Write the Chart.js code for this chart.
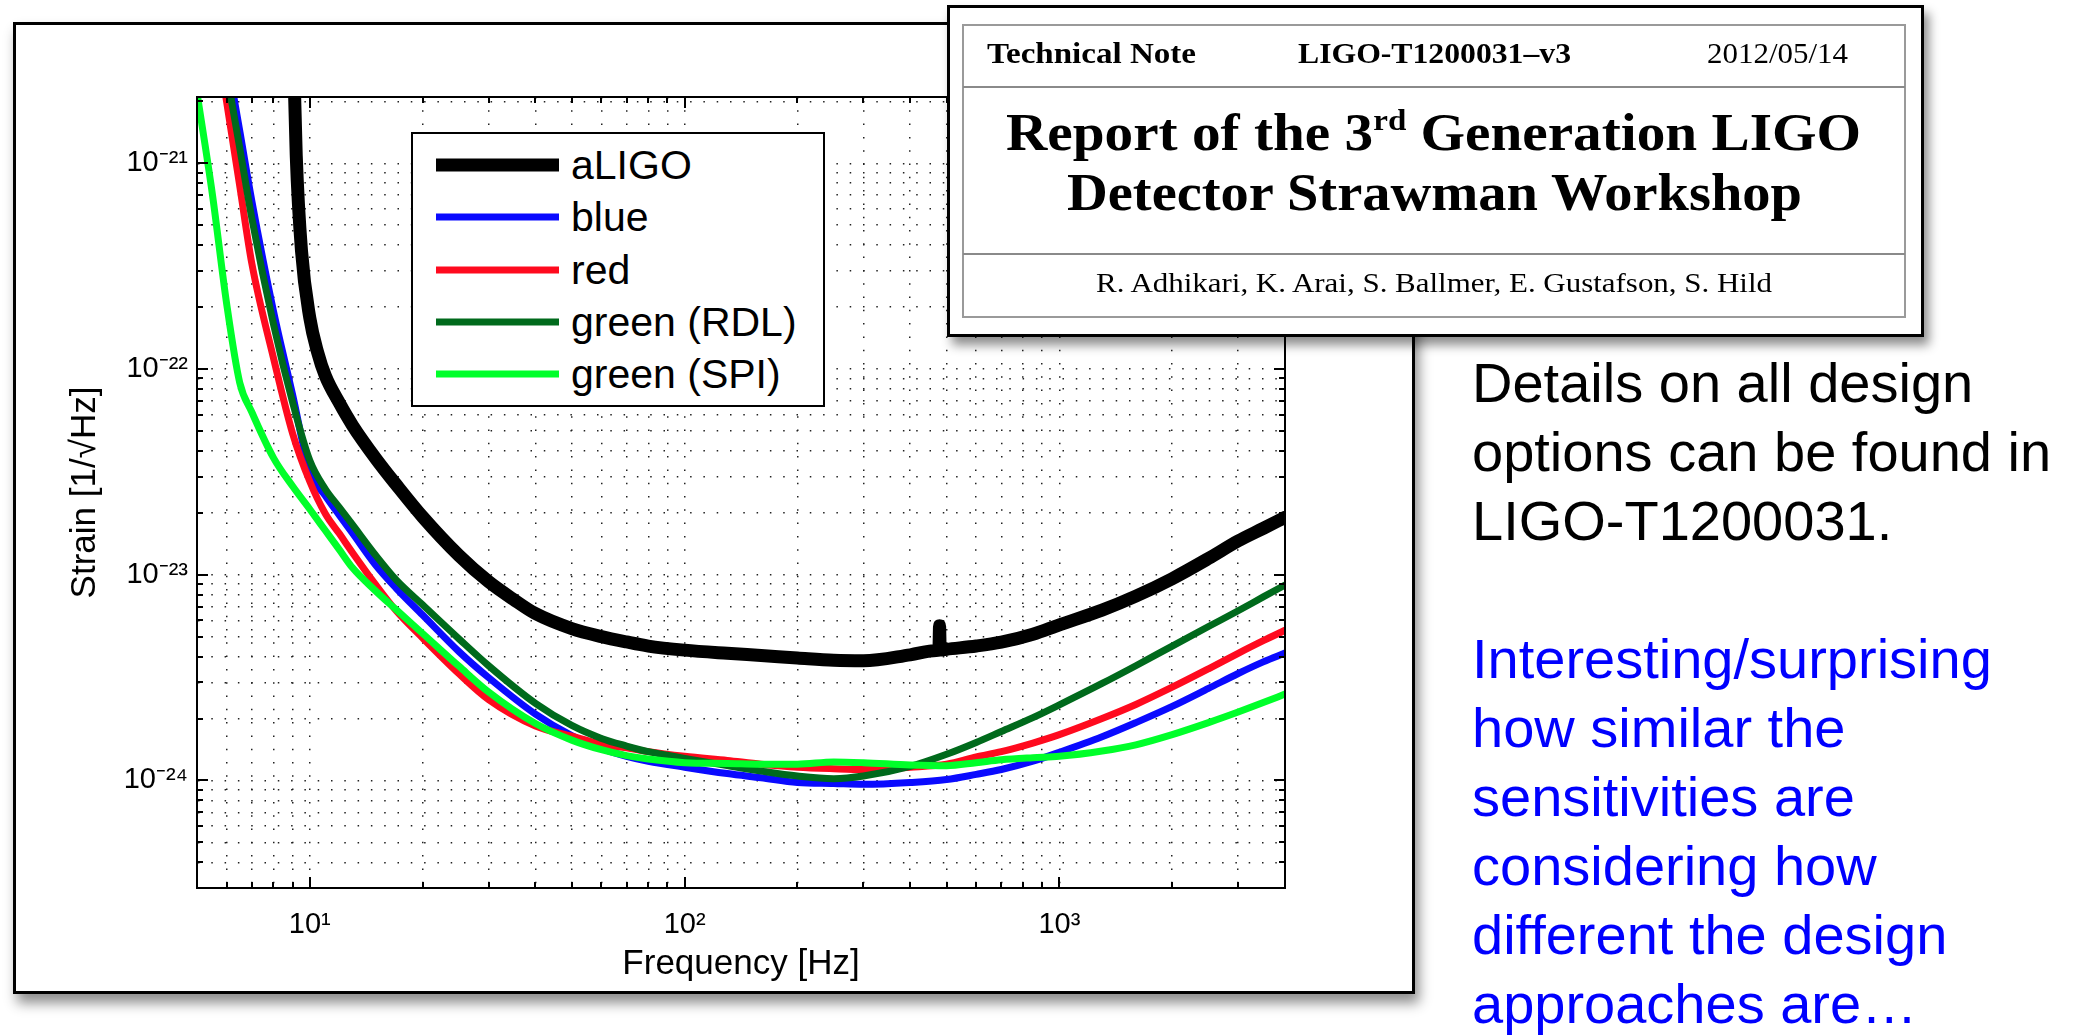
<!DOCTYPE html>
<html>
<head>
<meta charset="utf-8">
<script src="https://cdn.jsdelivr.net/npm/chart.js@4.4.1/dist/chart.umd.min.js"></script>
<style>
  html, body { margin: 0; padding: 0; background: #fff; }
  body { width: 2089px; height: 1035px; position: relative; overflow: hidden;
         font-family: "Liberation Sans", Arial, Helvetica, sans-serif; }
  #fig { position: absolute; left: 13px; top: 22px; width: 1396px; height: 966px;
         border: 3px solid #000; background: #fff; box-shadow: 4px 9px 12px rgba(0,0,0,0.45); }
  #plot { position: absolute; left: 13px; top: 22px; z-index: 2; }
  #legend { position: absolute; left: 411px; top: 132px; width: 410px; height: 271px;
            border: 2px solid #000; background: #fff; z-index: 3; }
  #legend .row { position: absolute; left: 0; width: 100%; height: 52px; }
  #legend .swatch { position: absolute; left: 23px; width: 123px; top: 50%; transform: translateY(-50%); }
  #legend .lbl { position: absolute; left: 158px; top: 0; line-height: 52px; font-size: 41px;
                 white-space: nowrap; color: #000; }
  #note { position: absolute; left: 947px; top: 5px; width: 971px; height: 326px;
          border: 3px solid #000; background: #fff; z-index: 4;
          box-shadow: 5px 8px 10px rgba(0,0,0,0.45); }
  #note svg { position: absolute; left: 0; top: 0; }
  #side { position: absolute; left: 1440px; top: 330px; }
</style>
</head>
<body>
<div id="fig"></div>
<canvas id="plot" width="1402" height="972"></canvas>
<div id="legend"></div>

<div id="note">
  <svg width="971" height="326" viewBox="950 8 971 326" font-family="'Liberation Serif', 'Times New Roman', serif">
    <rect x="963" y="25" width="942" height="292" fill="none" stroke="#9a9a9a" stroke-width="2"/>
    <line x1="963" y1="87" x2="1905" y2="87" stroke="#8a8a8a" stroke-width="2"/>
    <line x1="963" y1="254" x2="1905" y2="254" stroke="#8a8a8a" stroke-width="2"/>
    <text x="987" y="63" font-size="30" font-weight="bold" textLength="209" lengthAdjust="spacingAndGlyphs">Technical Note</text>
    <text x="1298" y="63" font-size="30" font-weight="bold" textLength="273" lengthAdjust="spacingAndGlyphs">LIGO-T1200031–v3</text>
    <text x="1707" y="63" font-size="30" textLength="141" lengthAdjust="spacingAndGlyphs">2012/05/14</text>
    <text x="1006" y="150" font-size="52" font-weight="bold" textLength="855" lengthAdjust="spacingAndGlyphs">Report of the 3<tspan font-size="30" dy="-20">rd</tspan><tspan dy="20"> Generation LIGO</tspan></text>
    <text x="1067" y="210" font-size="52" font-weight="bold" textLength="735" lengthAdjust="spacingAndGlyphs">Detector Strawman Workshop</text>
    <text x="1096" y="292" font-size="28" textLength="676" lengthAdjust="spacingAndGlyphs">R. Adhikari, K. Arai, S. Ballmer, E. Gustafson, S. Hild</text>
  </svg>
</div>

<svg id="side" width="649" height="705" viewBox="1440 330 649 705" font-family="'Liberation Sans', Arial, Helvetica, sans-serif" font-size="56">
  <text x="1472" y="402" fill="#000">Details on all design</text>
  <text x="1472" y="471" fill="#000">options can be found in</text>
  <text x="1472" y="540" fill="#000">LIGO-T1200031.</text>
  <text x="1472" y="678" fill="#0000fe">Interesting/surprising</text>
  <text x="1472" y="747" fill="#0000fe">how similar the</text>
  <text x="1472" y="816" fill="#0000fe">sensitivities are</text>
  <text x="1472" y="885" fill="#0000fe">considering how</text>
  <text x="1472" y="954" fill="#0000fe">different the design</text>
  <text x="1472" y="1023" fill="#0000fe">approaches are…</text>
</svg>

<script>
// frequency grid shared by the four design curves (Hz)
const freqs = [5, 5.5, 6, 6.5, 7, 8, 9, 10, 11, 12,
  13, 15, 17, 20, 25, 30, 40, 50, 60, 70,
  80, 100, 130, 160, 200, 250, 300, 400, 500, 600,
  700, 850, 1000, 1300, 1600, 2000, 2500, 3000, 3500, 4000];

// strain [1/sqrt(Hz)]
const blueStrain = [2.11e-20, 8.32e-21, 3.33e-21, 1.44e-21, 6.59e-22, 1.91e-22, 7.48e-23, 3.17e-23, 2.42e-23, 1.94e-23,
  1.59e-23, 1.11e-23, 8.59e-24, 6.37e-24, 4.23e-24, 3.16e-24, 2.10e-24, 1.65e-24, 1.43e-24, 1.31e-24,
  1.24e-24, 1.16e-24, 1.08e-24, 1.03e-24, 9.77e-25, 9.66e-25, 9.57e-25, 9.77e-25, 1.01e-24, 1.07e-24,
  1.13e-24, 1.24e-24, 1.37e-24, 1.63e-24, 1.91e-24, 2.29e-24, 2.80e-24, 3.31e-24, 3.77e-24, 4.16e-24];

const redStrain = [1.55e-20, 5.47e-21, 1.98e-21, 7.78e-22, 3.27e-22, 1.13e-22, 4.85e-23, 2.84e-23, 1.98e-23, 1.58e-23,
  1.28e-23, 8.93e-24, 6.68e-24, 4.92e-24, 3.30e-24, 2.47e-24, 1.84e-24, 1.64e-24, 1.50e-24, 1.44e-24,
  1.38e-24, 1.31e-24, 1.25e-24, 1.20e-24, 1.16e-24, 1.14e-24, 1.13e-24, 1.16e-24, 1.20e-24, 1.30e-24,
  1.38e-24, 1.52e-24, 1.67e-24, 2.00e-24, 2.34e-24, 2.84e-24, 3.49e-24, 4.15e-24, 4.78e-24, 5.37e-24];

const rdlStrain = [1.75e-20, 6.85e-21, 2.74e-21, 1.19e-21, 5.43e-22, 1.65e-22, 6.87e-23, 3.59e-23, 2.61e-23, 2.12e-23,
  1.75e-23, 1.24e-23, 9.44e-24, 7.14e-24, 4.88e-24, 3.61e-24, 2.37e-24, 1.85e-24, 1.60e-24, 1.47e-24,
  1.38e-24, 1.28e-24, 1.18e-24, 1.11e-24, 1.05e-24, 1.02e-24, 1.05e-24, 1.17e-24, 1.34e-24, 1.53e-24,
  1.73e-24, 2.02e-24, 2.33e-24, 2.96e-24, 3.61e-24, 4.50e-24, 5.60e-24, 6.68e-24, 7.80e-24, 8.91e-24];

const spiStrain = [2.2e-21, 7.00e-22, 2.07e-22, 8.59e-23, 6.18e-23, 3.70e-23, 2.69e-23, 2.08e-23, 1.64e-23, 1.32e-23,
  1.08e-23, 8.32e-24, 6.76e-24, 5.18e-24, 3.59e-24, 2.69e-24, 1.89e-24, 1.57e-24, 1.41e-24, 1.32e-24,
  1.27e-24, 1.22e-24, 1.21e-24, 1.20e-24, 1.20e-24, 1.23e-24, 1.22e-24, 1.19e-24, 1.18e-24, 1.22e-24,
  1.26e-24, 1.29e-24, 1.31e-24, 1.39e-24, 1.49e-24, 1.67e-24, 1.91e-24, 2.15e-24, 2.39e-24, 2.63e-24];

// aLIGO has its own grid (line feature near 479 Hz)
const aligoFreqs = [8.9, 9.2, 9.5, 10, 10.5, 11, 12, 13, 15, 17,
  20, 25, 30, 35, 40, 50, 60, 70, 80, 100,
  130, 160, 200, 250, 300, 400, 470, 477, 479, 481,
  500, 600, 700, 850, 1000, 1300, 1600, 2000, 2500, 3000,
  3500, 4000];
const aligoStrain = [1.07e-20, 1.09e-21, 3.77e-22, 1.77e-22, 1.20e-22, 9.27e-23, 6.82e-23, 5.32e-23, 3.67e-23, 2.74e-23,
  1.91e-23, 1.24e-23, 9.25e-24, 7.57e-24, 6.47e-24, 5.47e-24, 5.00e-24, 4.71e-24, 4.50e-24, 4.30e-24,
  4.15e-24, 4.05e-24, 3.94e-24, 3.84e-24, 3.82e-24, 4.08e-24, 4.28e-24, 4.29e-24, 5.65e-24, 4.30e-24,
  4.34e-24, 4.50e-24, 4.70e-24, 5.14e-24, 5.71e-24, 6.73e-24, 7.87e-24, 9.57e-24, 1.20e-23, 1.46e-23,
  1.68e-23, 1.90e-23];

// axes
const xMin = 5, xMax = 4000;
const yMin = 3e-25, yMax = 2.1e-21;
const xMajor = [10, 100, 1000];
const xMajorLabels = ['10¹', '10²', '10³'];
const yMajor = [1e-24, 1e-23, 1e-22, 1e-21];
const yMajorLabels = ['10⁻²⁴', '10⁻²³', '10⁻²²', '10⁻²¹'];

const sans = "'Liberation Sans', Arial, Helvetica, sans-serif";

function toPoints(xs, ys) {
  return xs.map((f, i) => ({ x: f, y: ys[i] }));
}

// 1..9 x 10^n between min and max, like matlab minor grid
function gridValues(min, max) {
  const out = [];
  let dec = Math.pow(10, Math.floor(Math.log10(min)));
  while (dec <= max) {
    for (let m = 1; m <= 9; m++) {
      const v = m * dec;
      if (v >= min * (1 - 1e-9) && v <= max * (1 + 1e-9)) out.push(v);
    }
    dec *= 10;
  }
  return out;
}

function majorIndex(v, majors) {
  return majors.findIndex(t => Math.abs(v / t - 1) < 1e-6);
}

// box on + inward ticks, drawn from the scales
const axesBox = {
  id: 'axesBox',
  afterDraw(chart) {
    const { ctx, chartArea: a, scales: { x, y } } = chart;
    ctx.save();
    ctx.strokeStyle = '#000';
    ctx.lineWidth = 2;
    ctx.beginPath();
    x.ticks.forEach(t => {
      if (t.value <= xMin || t.value >= xMax) return;
      const px = Math.round(x.getPixelForValue(t.value));
      const len = majorIndex(t.value, xMajor) >= 0 ? 11 : 6;
      ctx.moveTo(px, a.bottom); ctx.lineTo(px, a.bottom - len);
      ctx.moveTo(px, a.top); ctx.lineTo(px, a.top + len);
    });
    y.ticks.forEach(t => {
      if (t.value <= yMin || t.value >= yMax) return;
      const py = Math.round(y.getPixelForValue(t.value));
      const len = majorIndex(t.value, yMajor) >= 0 ? 11 : 6;
      ctx.moveTo(a.left, py); ctx.lineTo(a.left + len, py);
      ctx.moveTo(a.right, py); ctx.lineTo(a.right - len, py);
    });
    ctx.stroke();
    ctx.strokeRect(a.left, a.top, a.right - a.left, a.bottom - a.top);
    ctx.restore();
  }
};

const datasets = [
  { label: 'aLIGO', data: toPoints(aligoFreqs, aligoStrain), borderColor: '#000000', borderWidth: 13, order: 5 },
  { label: 'blue', data: toPoints(freqs, blueStrain), borderColor: '#0a0aff', borderWidth: 7, order: 4 },
  { label: 'red', data: toPoints(freqs, redStrain), borderColor: '#ff0a1e', borderWidth: 7, order: 3 },
  { label: 'green (RDL)', data: toPoints(freqs, rdlStrain), borderColor: '#006a1c', borderWidth: 7, order: 2 },
  { label: 'green (SPI)', data: toPoints(freqs, spiStrain), borderColor: '#00ff2a', borderWidth: 7, order: 1 }
];
datasets.forEach(d => {
  d.pointRadius = 0;
  d.fill = false;
  d.cubicInterpolationMode = 'monotone';
  d.borderJoinStyle = 'round';
  d.borderCapStyle = 'round';
  d.clip = 0;
});

const chart = new Chart(document.getElementById('plot'), {
  type: 'line',
  data: { datasets },
  options: {
    responsive: false,
    animation: false,
    devicePixelRatio: 1,
    layout: { padding: { left: 0, top: 75, right: 130, bottom: 0 } },
    plugins: { legend: { display: false }, tooltip: { enabled: false } },
    scales: {
      x: {
        type: 'logarithmic',
        min: xMin, max: xMax,
        afterBuildTicks: s => { s.ticks = gridValues(xMin, xMax).map(v => ({ value: v })); },
        afterFit: s => { s.height = 106; },
        grid: { color: '#222', lineWidth: 1.5, drawTicks: false },
        border: { display: true, color: '#000', width: 2, dash: [1.5, 11.8] },
        ticks: {
          autoSkip: false, maxRotation: 0, padding: 20, color: '#000',
          font: { family: sans, size: 29 },
          callback: v => { const i = majorIndex(v, xMajor); return i >= 0 ? xMajorLabels[i] : ''; }
        },
        title: { display: true, text: 'Frequency [Hz]', color: '#000',
                 font: { family: sans, size: 35 }, padding: { top: 0, bottom: 9 } }
      },
      y: {
        type: 'logarithmic',
        min: yMin, max: yMax,
        afterBuildTicks: s => { s.ticks = gridValues(yMin, yMax).map(v => ({ value: v })); },
        afterFit: s => { s.width = 184; },
        grid: { color: '#222', lineWidth: 1.5, drawTicks: false },
        border: { display: true, color: '#000', width: 2, dash: [1.5, 11.8] },
        ticks: {
          autoSkip: false, padding: 9, color: '#000',
          font: { family: sans, size: 29 },
          callback: v => { const i = majorIndex(v, yMajor); return i >= 0 ? yMajorLabels[i] : ''; }
        },
        title: { display: true, text: 'Strain [1/√Hz]', color: '#000',
                 font: { family: sans, size: 35 }, padding: { top: 51, bottom: 0 } }
      }
    }
  },
  plugins: [axesBox]
});

// matlab-style legend box, built from the datasets
const legendEl = document.getElementById('legend');
chart.data.datasets.forEach((d, i) => {
  const row = document.createElement('div');
  row.className = 'row';
  row.style.top = (5 + i * 52.3) + 'px';
  const sw = document.createElement('div');
  sw.className = 'swatch';
  sw.style.height = d.borderWidth + 'px';
  sw.style.background = d.borderColor;
  const lbl = document.createElement('div');
  lbl.className = 'lbl';
  lbl.textContent = d.label;
  row.appendChild(sw);
  row.appendChild(lbl);
  legendEl.appendChild(row);
});
</script>
</body>
</html>
